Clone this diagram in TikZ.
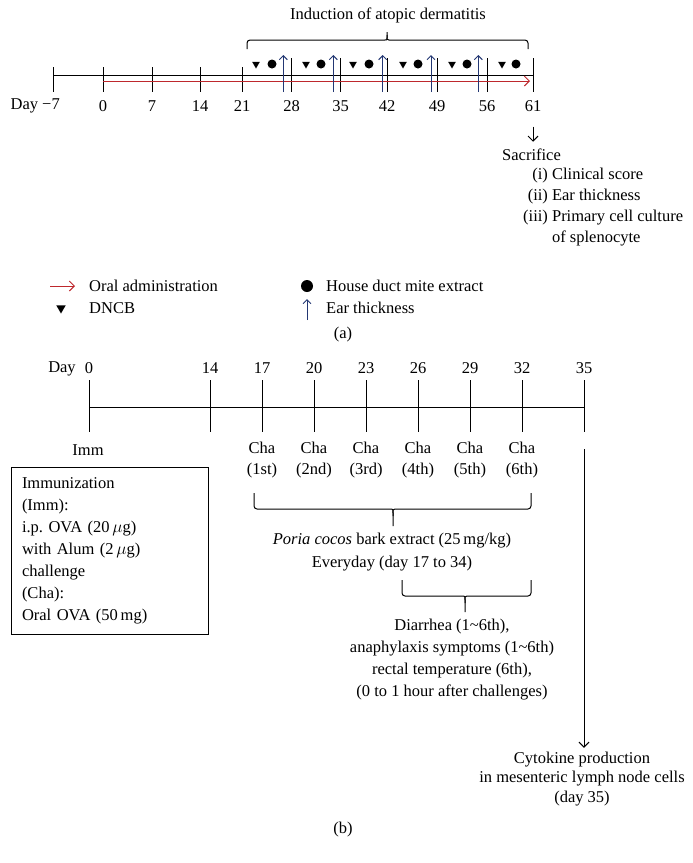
\documentclass[tikz,border=0pt]{standalone}
\usepackage{fontspec}
\setmainfont{Liberation Serif}
\usetikzlibrary{arrows.meta,shapes.geometric}
\definecolor{oralred}{RGB}{190,40,45}
\definecolor{earblue}{RGB}{35,55,115}

\begin{document}
\begin{tikzpicture}[
x=1pt,y=-1pt,
every node/.style={font=\fontsize{16.5}{21}\selectfont,inner sep=1pt},
axis/.style={line width=1pt},
oral/.style={draw=oralred,line width=1pt,-{Straight Barb[length=5pt,width=10pt]}},
ear/.style={draw=earblue,line width=1pt,-{Straight Barb[length=4pt,width=8pt]}},
down/.style={line width=1pt,-{Straight Barb[length=5pt,width=10pt]}},
dncb/.style={regular polygon,regular polygon sides=3,shape border rotate=180,fill,inner sep=0pt,minimum size=9pt},
mite/.style={circle,fill,inner sep=0pt,minimum size=9pt},
brace/.style={line width=1pt,rounded corners=3pt},
]
\useasboundingbox (0,0) rectangle (693,863);

%(a) atopic dermatitis
\node (induct) at (388,15) {Induction of atopic dermatitis};
\draw[brace] (247,49) -- (247,40) -- (382,40) .. controls (387,40) .. (387,35) -- (387,32);
\draw[brace] (528,49) -- (528,40) -- (392,40) .. controls (387,40) .. (387,35);

\draw[axis] (53,75) -- (533,75);
\node[anchor=east] (dm7) at (61,106) {Day −7};
\draw[axis] (53,67) -- (53,92);
\foreach \d/\x in {0/103,7/152,14/200,21/242}{
  \draw[axis] (\x,67) -- (\x,92);
  \node (d\d) at (\x,106) {\d};
}
\foreach \d/\x in {28/291.7,35/340.7,42/387,49/437,56/487,61/533}{
  \draw[axis] (\x,58) -- (\x,92);
  \node (d\d) at (\x,106) {\d};
}
\draw[oral] (103,81) -- (530,81);
\foreach \x in {283.3,333.3,382.7,431,478.3}
  \draw[ear] (\x,92) -- (\x,55);
\foreach \t/\c in {256/272,306/321,353/369,403/418,452/467,502/516}{
  \node[dncb] at (\t,64) {};
  \node[mite] at (\c,64) {};
}

\node[anchor=west] (sac) at (501,155) {Sacrifice};
\draw[down] (d61.south) ++(0,14) -- ++(0,15);
\node[anchor=west] (readout) at (522,207) {\begin{tabular}{@{}r@{\ }l@{}}
(i) & Clinical score\\
(ii) & Ear thickness\\
(iii) & Primary cell culture\\
 & of splenocyte
\end{tabular}};

%Legend
\draw[oral] (50,286) -- (75,286);
\node[anchor=west] (lgoral) at (88,286) {Oral administration};
\node[dncb,minimum size=11pt] at (61,308) {};
\node[anchor=west] (lgdncb) at (88,308) {DNCB};
\node[mite,minimum size=12pt] at (307,286) {};
\node[anchor=west] (lgmite) at (325,286) {House duct mite extract};
\draw[ear] (307,320) -- (307,299);
\node[anchor=west] (lgear) at (325,308) {Ear thickness};
\node (capa) at (343,335) {(a)};

%(b) food allergy
\node (day) at (62,369) {Day};
\draw[axis] (89,407) -- (584,407);
\foreach \d/\x in {0/89,14/210,17/262,20/314,23/366,26/418,29/470,32/522,35/584}{
  \draw[axis] (\x,380) -- (\x,432);
  \node (b\d) at (\x,368) {\d};
}
\node (imm) at (88,450) {Imm};
\foreach \n/\x in {1st/262,2nd/314,3rd/366,4th/418,5th/470,6th/522}
  \node[align=center] (cha\n) at (\x,460.5) {Cha\\(\n)};

\node[draw,line width=1pt,align=left,text width=175pt,inner xsep=11pt,
  minimum height=167pt,font=\fontsize{16.5}{22}\selectfont] (immbox) at (109.5,550.5)
  {Immunization\\(Imm):\\i.p.\ OVA (20\,$\mu$g)\\with Alum (2\,$\mu$g)\\challenge\\(Cha):\\Oral OVA (50\,mg)};

\draw[brace] (254,493) -- (254,509) -- (388,509) .. controls (393,509) .. (393,516) -- (393,526);
\draw[brace] (531,493) -- (531,509) -- (398,509) .. controls (393,509) .. (393,516);
\node[align=center,font=\fontsize{16.5}{23}\selectfont] (poria) at (392,552.5)
  {\textit{Poria cocos} bark extract (25\,mg/kg)\\Everyday (day 17 to 34)};

\draw[brace] (402,580) -- (402,596) -- (460,596) .. controls (465,596) .. (465,603) -- (465,612);
\draw[brace] (531,580) -- (531,596) -- (470,596) .. controls (465,596) .. (465,603);
\node[align=center,font=\fontsize{16.5}{22}\selectfont] (symp) at (452,660)
  {Diarrhea (1\textasciitilde6th),\\anaphylaxis symptoms (1\textasciitilde6th)\\rectal temperature (6th),\\(0 to 1 hour after challenges)};

\coordinate (s35) at (584,449);
\node[align=center,font=\fontsize{16.5}{19.5}\selectfont] (cyto) at (582,779)
  {Cytokine production\\in mesenteric lymph node cells\\(day 35)};
\draw[down,shorten >=3pt] (s35) -- (s35 |- cyto.north);

\node (capb) at (343,830) {(b)};

\end{tikzpicture}
\end{document}
